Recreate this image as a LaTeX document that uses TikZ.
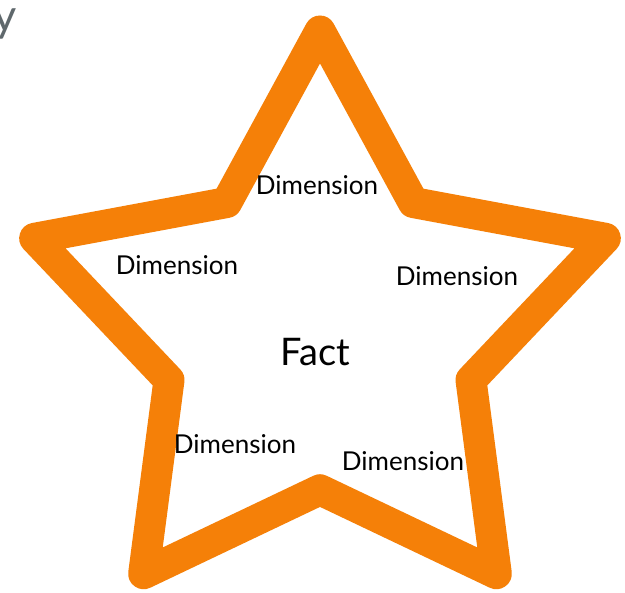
\documentclass[tikz,border=0pt]{standalone}
\usepackage{fontspec}
\setmainfont{Lato}
\usepackage{xcolor}
\usetikzlibrary{shapes.geometric, positioning}
\definecolor{starorange}{RGB}{245, 128, 8}
\definecolor{titlegray}{RGB}{95, 104, 108}

\tikzset{
    dimlabel/.style={font=\fontsize{26}{30}\selectfont, text=black, inner sep=0pt},
    factlabel/.style={font=\fontsize{38}{44}\selectfont, text=black, inner sep=0pt}
}

\begin{document}
\begin{tikzpicture}[x=1pt, y=-1pt]
    % Frame of the slide crop
    \useasboundingbox (0, 0) rectangle (625, 593);
    \clip (0, 0) rectangle (625, 593);
    \fill[white] (0, 0) rectangle (625, 593);

    % Cut-off title
    \node[font=\fontsize{45}{50}\selectfont, text=titlegray, anchor=east, inner sep=0pt]
        (title) at (17, 24) {y};

    % The star
    \node[star, star points=5, star point ratio=1.89, minimum size=600pt,
          draw=starorange, fill=white, line width=31pt, line join=round,
          inner sep=0pt, outer sep=0pt] (fact star) at (320, 331) {};

    % Labels
    \node[factlabel] (fact) at (315, 352) {Fact};
    \node[dimlabel] (dim top)   at (317, 185) {Dimension};
    \node[dimlabel] (dim left)  at (177, 265) {Dimension};
    \node[dimlabel] (dim right) at (457, 276) {Dimension};
    \node[dimlabel] (dim bl)    at (235, 444) {Dimension};
    \node[dimlabel] (dim br)    at (403, 461) {Dimension};
\end{tikzpicture}
\end{document}
